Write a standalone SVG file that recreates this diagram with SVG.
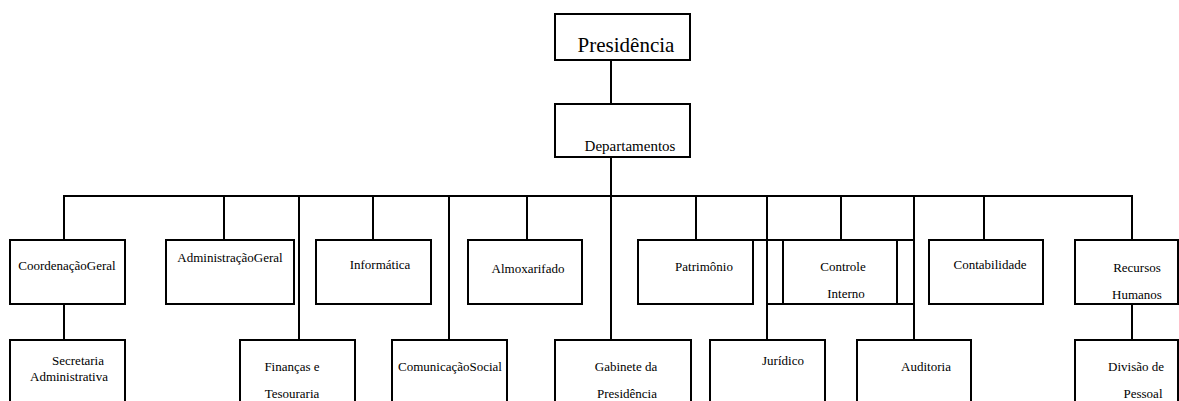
<svg xmlns="http://www.w3.org/2000/svg" width="1179" height="401" viewBox="0 0 1179 401">
<style>
rect{fill:#fff;stroke:#000;stroke-width:2}
line{stroke:#000;stroke-width:2}
text{font-size:13px;fill:#000;text-anchor:middle}
</style>
<rect x="0" y="0" width="1179" height="401" style="stroke:none"/>
<g id="connectors">
<line x1="611" y1="60" x2="611" y2="104"/>
<line x1="611" y1="157" x2="611" y2="340"/>
<line x1="63" y1="196" x2="1133" y2="196"/>
<line x1="64" y1="196" x2="64" y2="240"/>
<line x1="64" y1="304" x2="64" y2="340"/>
<line x1="224" y1="196" x2="224" y2="240"/>
<line x1="299" y1="196" x2="299" y2="340"/>
<line x1="373" y1="196" x2="373" y2="240"/>
<line x1="449" y1="196" x2="449" y2="340"/>
<line x1="527" y1="196" x2="527" y2="240"/>
<line x1="696" y1="196" x2="696" y2="240"/>
<line x1="767" y1="196" x2="767" y2="340"/>
<line x1="841" y1="196" x2="841" y2="240"/>
<line x1="914" y1="196" x2="914" y2="340"/>
<line x1="984" y1="196" x2="984" y2="240"/>
<line x1="1132" y1="196" x2="1132" y2="240"/>
<line x1="1132" y1="304" x2="1132" y2="340"/>
<line x1="752" y1="240" x2="915" y2="240"/>
<line x1="766" y1="304" x2="915" y2="304"/>
</g>
<g font-family="Liberation Serif, Times New Roman, DejaVu Serif, serif">
<g id="presidencia"><rect x="555" y="14" width="135" height="46"/><text x="626" y="52" style="font-size:21px">Presidência</text></g>
<g id="departamentos"><rect x="555" y="104" width="135" height="53"/><text x="630" y="151" style="font-size:15px">Departamentos</text></g>
<g id="coordenacao-geral"><rect x="10" y="240" width="115" height="64"/><text x="67" y="270">CoordenaçãoGeral</text></g>
<g id="administracao-geral"><rect x="166" y="240" width="128" height="64"/><text x="230" y="262">AdministraçãoGeral</text></g>
<g id="informatica"><rect x="316" y="240" width="115" height="64"/><text x="380" y="269">Informática</text></g>
<g id="almoxarifado"><rect x="468" y="240" width="114" height="64"/><text x="528" y="273">Almoxarifado</text></g>
<g id="patrimonio"><rect x="638" y="240" width="115" height="64"/><text x="704" y="271">Patrimônio</text></g>
<g id="controle-interno"><rect x="783" y="240" width="114" height="64"/><text x="843" y="271">Controle</text><text x="846" y="298">Interno</text></g>
<g id="contabilidade"><rect x="929" y="240" width="114" height="64"/><text x="990" y="269">Contabilidade</text></g>
<g id="recursos-humanos"><rect x="1075" y="240" width="103" height="64"/><text x="1137" y="272">Recursos</text><text x="1137" y="299">Humanos</text></g>
<g id="secretaria-administrativa"><rect x="10" y="340" width="115" height="80"/><text x="78" y="365">Secretaria</text><text x="69" y="381">Administrativa</text></g>
<g id="financas-tesouraria"><rect x="240" y="340" width="115" height="80"/><text x="292" y="371">Finanças e</text><text x="292" y="398">Tesouraria</text></g>
<g id="comunicacao-social"><rect x="392" y="340" width="115" height="80"/><text x="450" y="371">ComunicaçãoSocial</text></g>
<g id="gabinete-presidencia"><rect x="555" y="340" width="136" height="80"/><text x="626" y="371">Gabinete da</text><text x="627" y="398">Presidência</text></g>
<g id="juridico"><rect x="710" y="340" width="115" height="80"/><text x="783" y="365">Jurídico</text></g>
<g id="auditoria"><rect x="857" y="340" width="114" height="80"/><text x="926" y="371">Auditoria</text></g>
<g id="divisao-pessoal"><rect x="1075" y="340" width="103" height="80"/><text x="1136" y="371">Divisão de</text><text x="1143" y="398">Pessoal</text></g>
</g>
</svg>
